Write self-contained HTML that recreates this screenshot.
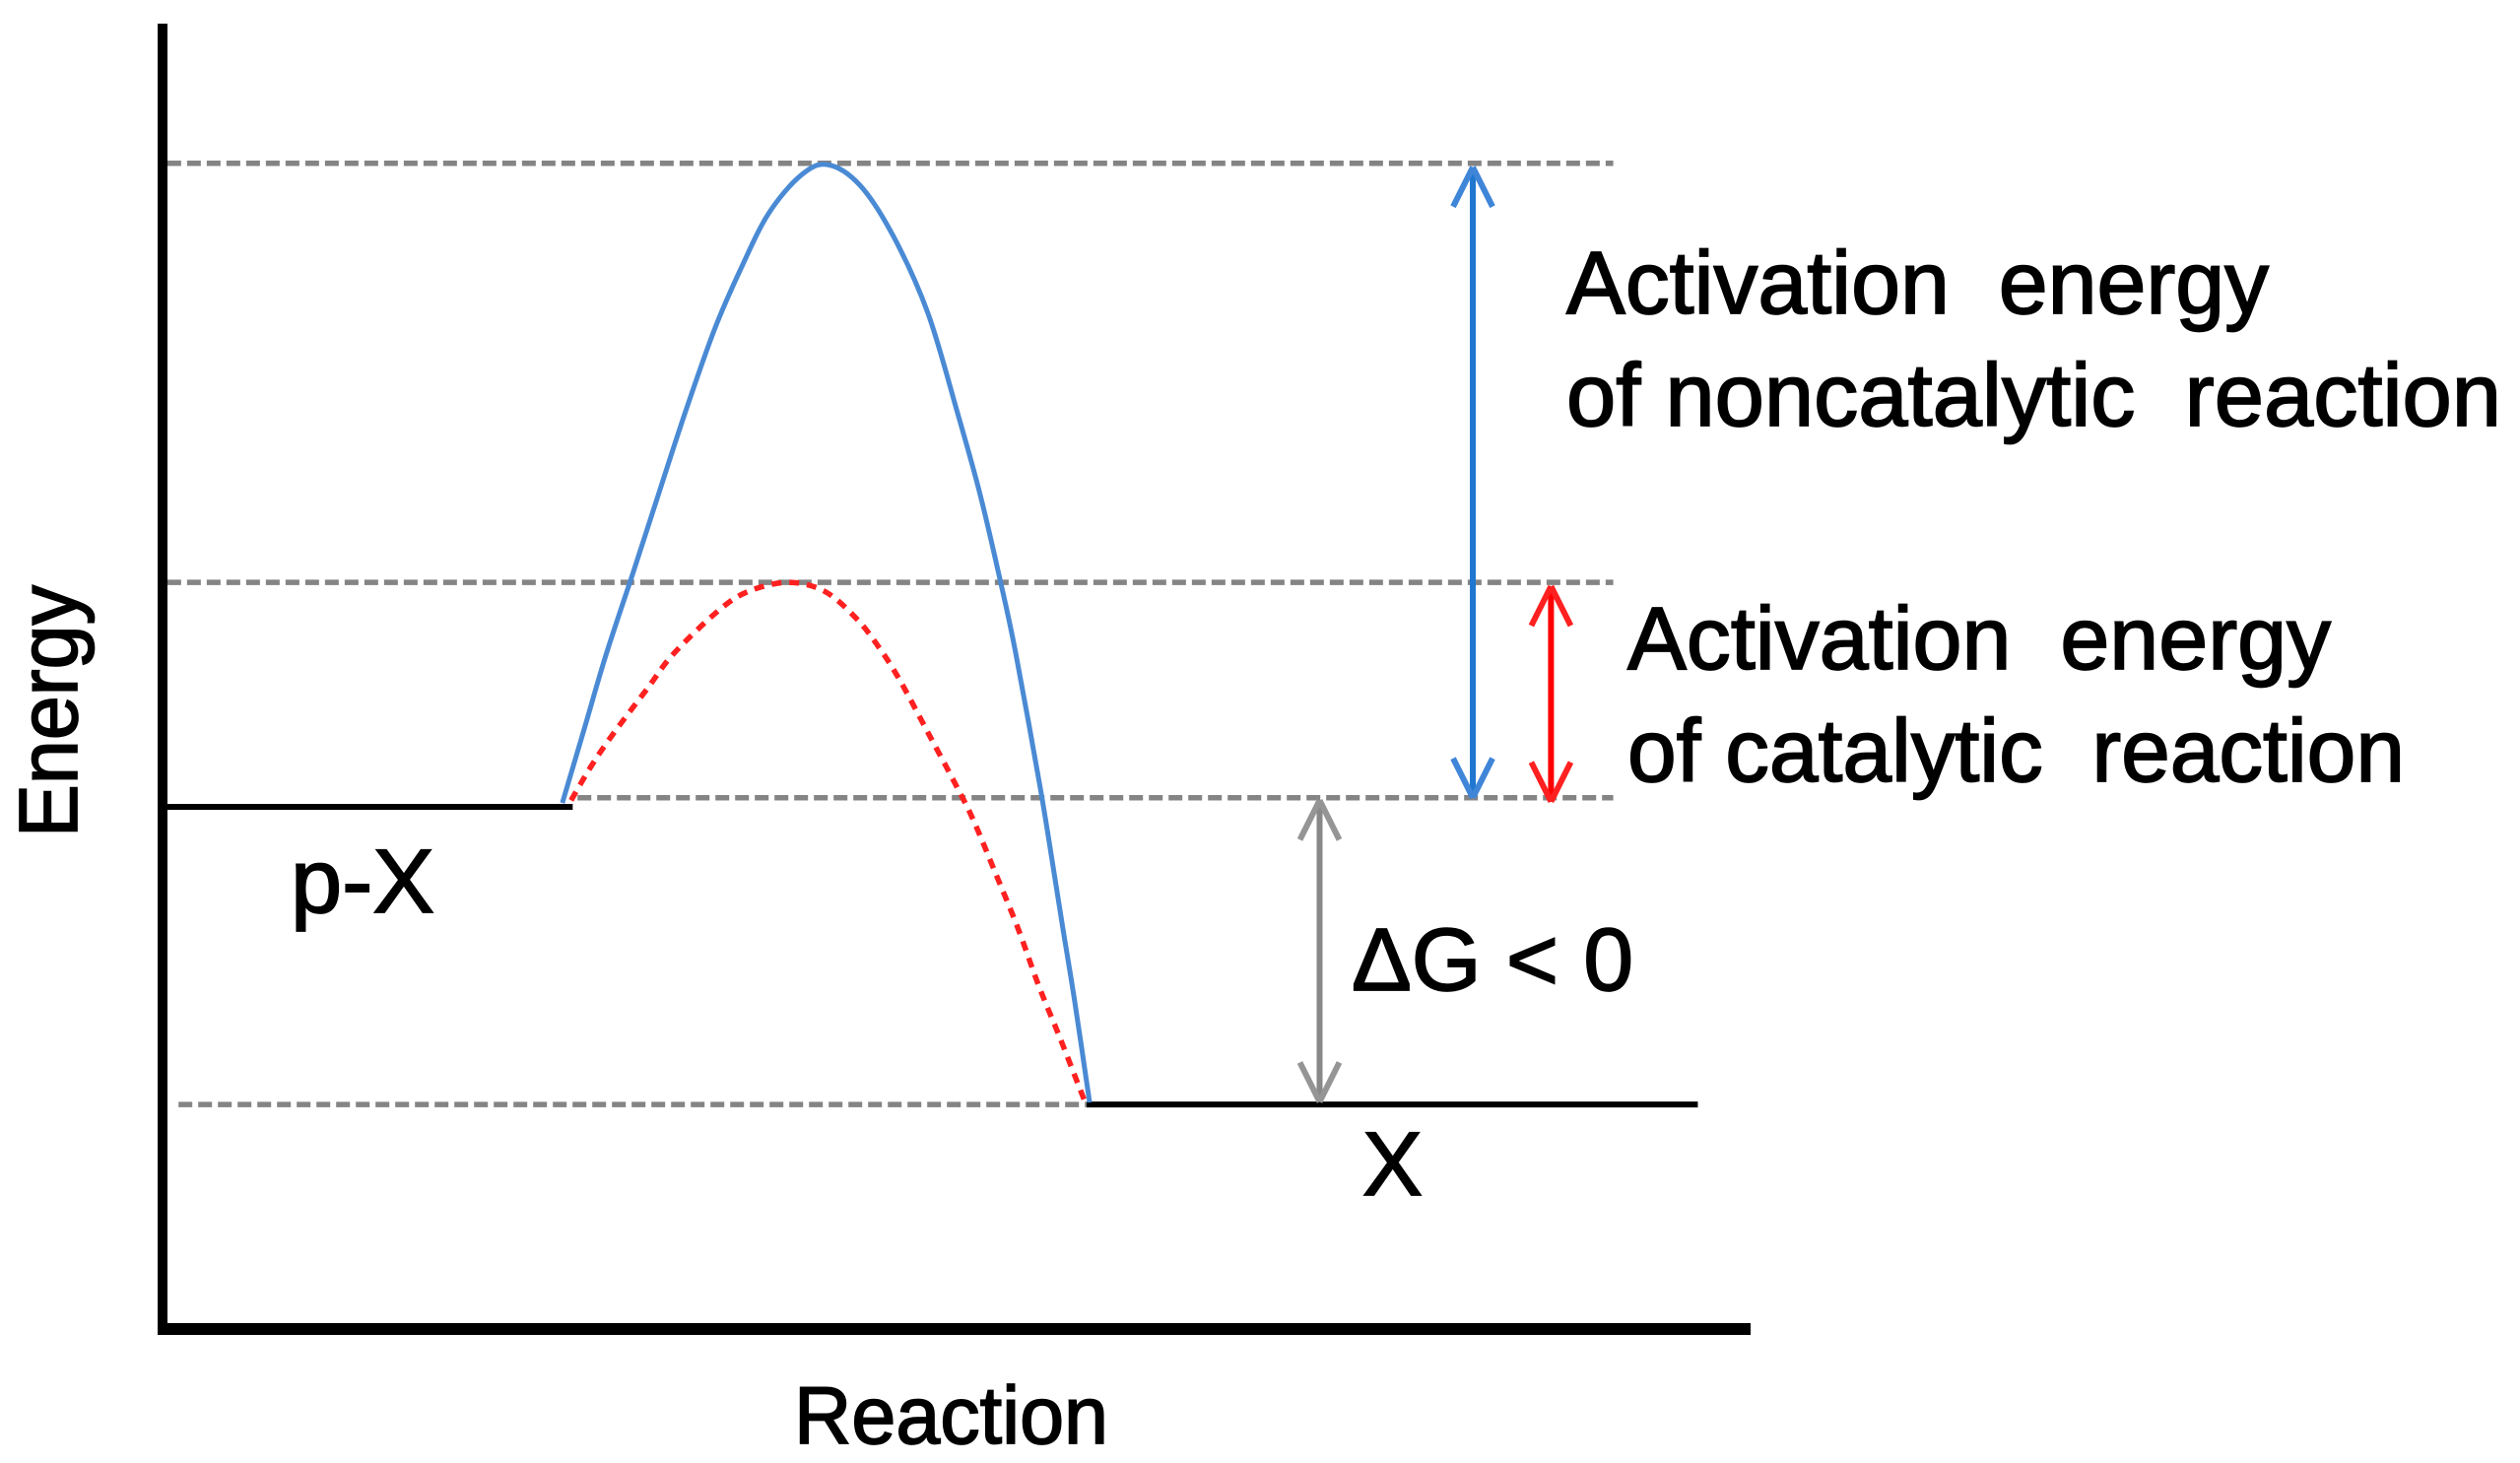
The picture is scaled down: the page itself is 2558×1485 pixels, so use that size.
<!DOCTYPE html>
<html lang="en">
<head>
<meta charset="utf-8">
<title>Reaction energy diagram</title>
<style>
html,body{margin:0;padding:0;background:#fff;}
body{width:2558px;height:1485px;overflow:hidden;}
svg{display:block;}
text{font-family:"Liberation Sans",Arial,sans-serif;fill:#000;stroke:#000;stroke-width:1.7;white-space:pre;}
</style>
</head>
<body>
<svg id="chart" width="2558" height="1485" viewBox="0 0 2558 1485" xmlns="http://www.w3.org/2000/svg">
  <rect x="0" y="0" width="2558" height="1485" fill="#ffffff"/>
  <g id="guides"></g>
  <g id="levels"></g>
  <g id="curves"></g>
  <g id="arrows"></g>
  <rect x="160" y="24" width="10" height="1331" fill="#000"/>
  <rect x="160" y="1343" width="1617" height="12" fill="#000"/>

  <text transform="translate(78,850) rotate(-90)" font-size="84" textLength="256" lengthAdjust="spacingAndGlyphs">Energy</text>
  <text x="806" y="1465" font-size="83" textLength="319" lengthAdjust="spacingAndGlyphs">Reaction</text>
  <text x="295" y="926" font-size="92" textLength="146" lengthAdjust="spacingAndGlyphs">p-X</text>
  <text x="1383" y="1213" font-size="92" textLength="61" lengthAdjust="spacingAndGlyphs">X</text>
  <text x="1372" y="1005" font-size="90" textLength="286" lengthAdjust="spacingAndGlyphs" xml:space="preserve">ΔG &lt; 0</text>
  <text x="1590" y="318" font-size="90" textLength="713" lengthAdjust="spacingAndGlyphs" xml:space="preserve">Activation  energy</text>
  <text x="1590" y="432" font-size="90" textLength="949" lengthAdjust="spacingAndGlyphs" xml:space="preserve">of noncatalytic  reaction</text>
  <text x="1652" y="679" font-size="90" textLength="714" lengthAdjust="spacingAndGlyphs" xml:space="preserve">Activation  energy</text>
  <text x="1652" y="793" font-size="90" textLength="789" lengthAdjust="spacingAndGlyphs" xml:space="preserve">of catalytic  reaction</text>
</svg>
<script>
// Reaction coordinate (arbitrary units) and energy (arbitrary units).
var noncatalyticReaction = [25.05, 26.42, 27.78, 29.51, 31.05, 32.72, 34.57, 36.23, 37.96, 40.0, 41.67, 43.7, 45.8, 47.96, 49.81, 51.23, 52.5, 53.46, 55.0, 55.93, 56.42, 57.16, 58.09];
var noncatalyticEnergy   = [40.3, 45.96, 51.62, 58.04, 63.85, 70.11, 76.53, 81.21, 85.43, 88.38, 89.2, 87.62, 83.7, 77.81, 70.19, 63.92, 57.28, 51.77, 41.43, 34.42, 30.64, 25.06, 17.36];
var catalyticReaction = [25.6, 26.9, 28.3, 30.4, 32.0, 34.8, 36.7, 39.2, 41.5, 43.5, 44.9, 46.2, 48.0, 49.7, 50.8, 52.2, 53.6, 54.9, 56.2, 57.8];
var catalyticEnergy   = [40.5, 43.2, 45.7, 49.1, 51.7, 55.0, 56.5, 57.2, 56.5, 54.4, 52.2, 49.7, 45.6, 41.7, 39.0, 34.9, 30.7, 26.3, 22.4, 17.4];

// Dashed guide lines: energy level and reaction span.
var guideEnergy = [89.3, 57.2, 40.7, 17.2];
var guideStart  = [0.3, 0.3, 26.0, 1.0];
var guideEnd    = [90.9, 90.9, 90.9, 57.9];

// Solid levels: energy level and reaction span.
var levelNames  = ['reactant-level', 'product-level'];
var levelEnergy = [40.0, 17.2];
var levelStart  = [0.3, 57.9];
var levelEnd    = [25.7, 96.2];

// Double-headed arrows: reaction position and energy span.
var arrowNames    = ['noncatalytic-activation-arrow', 'catalytic-activation-arrow', 'delta-g-arrow'];
var arrowReaction = [82.1, 87.0, 72.5];
var arrowTop      = [89.0, 56.9, 40.5];
var arrowBottom   = [40.7, 40.4, 17.4];
var arrowColors   = ['#1f77d0', '#ff0000', '#888888'];
var headColors    = ['#3f85d8', '#ff2020', '#959595'];

var NS = 'http://www.w3.org/2000/svg';
function xScale(r) { return 165 + r * 16.2; }
function yScale(e) { return 1349 - e * 13.25; }

function smoothPath(rs, es) {
  var p = rs.map(function (r, i) { return [xScale(r), yScale(es[i])]; });
  var d = 'M' + p[0][0] + ' ' + p[0][1];
  for (var i = 0; i < p.length - 1; i++) {
    var a = p[Math.max(0, i - 1)], b = p[i], c = p[i + 1], e = p[Math.min(p.length - 1, i + 2)];
    d += ' C' + (b[0] + (c[0] - a[0]) / 6) + ' ' + (b[1] + (c[1] - a[1]) / 6) + ' ' +
         (c[0] - (e[0] - b[0]) / 6) + ' ' + (c[1] - (e[1] - b[1]) / 6) + ' ' + c[0] + ' ' + c[1];
  }
  return d;
}

function makeLine(x1, y1, x2, y2, color, width) {
  var l = document.createElementNS(NS, 'line');
  l.setAttribute('x1', x1);
  l.setAttribute('y1', y1);
  l.setAttribute('x2', x2);
  l.setAttribute('y2', y2);
  l.setAttribute('stroke', color);
  l.setAttribute('stroke-width', width);
  return l;
}

var guidesGroup = document.getElementById('guides');
guideEnergy.forEach(function (e, i) {
  var l = makeLine(xScale(guideStart[i]), yScale(e), xScale(guideEnd[i]), yScale(e), '#848484', 5.5);
  l.setAttribute('stroke-dasharray', '14 6');
  
  
  guidesGroup.appendChild(l);
});

var levelsGroup = document.getElementById('levels');
levelEnergy.forEach(function (e, i) {
  var l = makeLine(xScale(levelStart[i]), yScale(e), xScale(levelEnd[i]), yScale(e), '#000000', 6);
  
  
  levelsGroup.appendChild(l);
});

var curvesGroup = document.getElementById('curves');

var blueCurve = document.createElementNS(NS, 'path');
blueCurve.setAttribute('d', smoothPath(noncatalyticReaction, noncatalyticEnergy));
blueCurve.setAttribute('fill', 'none');
blueCurve.setAttribute('stroke', '#4a8ad4');
blueCurve.setAttribute('stroke-width', '5');


curvesGroup.appendChild(blueCurve);

var redCurve = document.createElementNS(NS, 'path');
redCurve.setAttribute('d', smoothPath(catalyticReaction, catalyticEnergy));
redCurve.setAttribute('fill', 'none');
redCurve.setAttribute('stroke', '#ff2020');
redCurve.setAttribute('stroke-width', '5.5');
redCurve.setAttribute('stroke-dasharray', '10 8');


curvesGroup.appendChild(redCurve);

var arrowsGroup = document.getElementById('arrows');
arrowReaction.forEach(function (r, i) {
  var x = xScale(r), top = yScale(arrowTop[i]), bottom = yScale(arrowBottom[i]);
  var g = document.createElementNS(NS, 'g');
  
  
  g.appendChild(makeLine(x, top, x, bottom, arrowColors[i], 6));
  g.appendChild(makeLine(x, top, x - 20, top + 40, headColors[i], 6));
  g.appendChild(makeLine(x, top, x + 20, top + 40, headColors[i], 6));
  g.appendChild(makeLine(x, bottom, x - 20, bottom - 40, headColors[i], 6));
  g.appendChild(makeLine(x, bottom, x + 20, bottom - 40, headColors[i], 6));
  arrowsGroup.appendChild(g);
});
</script>
</body>
</html>
